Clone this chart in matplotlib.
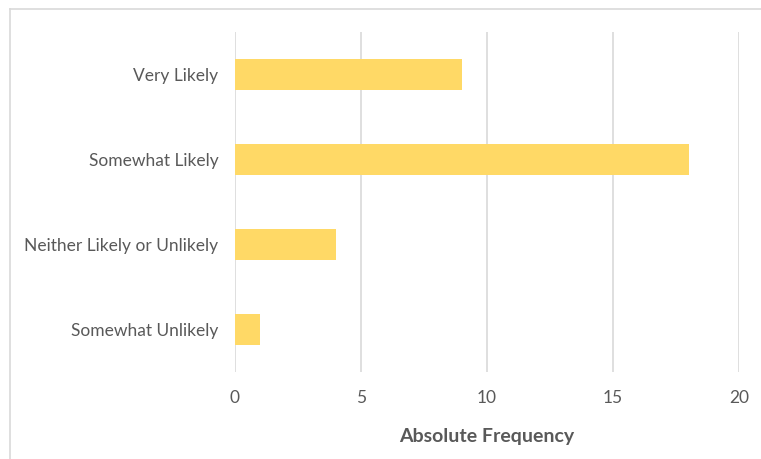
import matplotlib.pyplot as plt
from matplotlib.lines import Line2D

plt.rcParams['font.family'] = 'Lato'

# Daten
categories = ['Very Likely', 'Somewhat Likely', 'Neither Likely or Unlikely', 'Somewhat Unlikely']
counts = [9, 18, 4, 1]
xticks = [0, 5, 10, 15, 20]

W, H = 761, 459
fig = plt.figure(figsize=(W / 100, H / 100), dpi=100)
ax = fig.add_axes([235 / W, 1 - 372 / H, (739 - 235) / W, (372 - 32) / H])

pos = list(range(len(categories)))[::-1]
ax.barh(pos, counts, height=0.36, color='#FFD966', zorder=2)

ax.set_xlim(0, 20)
ax.set_ylim(-0.5, len(categories) - 0.5)
ax.set_xticks(xticks)
ax.set_yticks(pos)
ax.set_yticklabels(categories)
ax.grid(axis='x', color='#D9D9D9', linewidth=1.2, zorder=0)
for s in ax.spines.values():
    s.set_visible(False)
ax.tick_params(axis='both', length=0, labelsize=12.5, labelcolor='#595959')
ax.tick_params(axis='x', pad=13)
ax.tick_params(axis='y', pad=12)
ax.set_xlabel('Absolute Frequency', fontsize=14, fontweight='bold', color='#595959', labelpad=16)

# Rahmen links und oben
fig.add_artist(Line2D([9.5 / W, 9.5 / W], [0, 1 - 8.5 / H], transform=fig.transFigure,
                      color='#D9D9D9', linewidth=1.2))
fig.add_artist(Line2D([9.5 / W, 1], [1 - 8.5 / H, 1 - 8.5 / H], transform=fig.transFigure,
                      color='#D9D9D9', linewidth=1.2))

fig.savefig('out.png', dpi=100)
